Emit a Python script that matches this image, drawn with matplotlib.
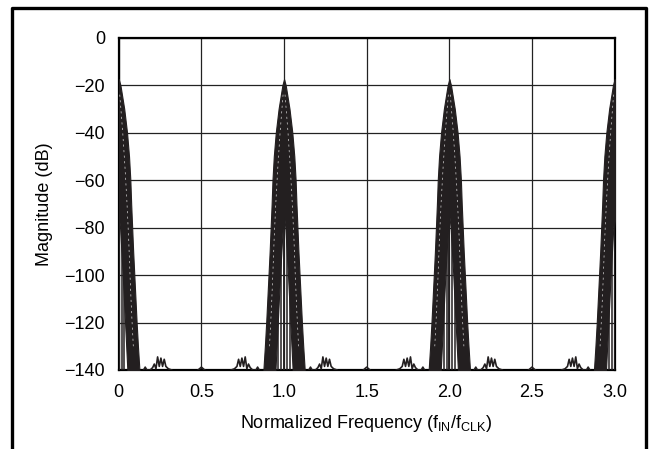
import matplotlib
matplotlib.use("Agg")
import matplotlib.pyplot as plt
from matplotlib.lines import Line2D
import numpy as np

plt.rcParams["font.family"] = ["Liberation Sans", "DejaVu Sans"]
plt.rcParams["mathtext.default"] = "regular"

# lobe centres (multiples of fCLK)
centers = [0.0, 1.0, 2.0, 3.0]

# main lobe envelope (offset from centre, dB)
lobe_db = [-17.5, -20, -30, -40, -50, -60, -70, -75, -80, -90, -100, -110, -120, -130, -140]
outer_off = [0.0, 0.01, 0.033, 0.05, 0.062, 0.07, 0.075, 0.078, 0.081, 0.087, 0.094, 0.101, 0.108, 0.116, 0.125]
inner_off = [0.0, 0.0, 0.0, 0.0, 0.0, 0.0, 0.0, 0.0, 0.008, 0.016, 0.024, 0.031, 0.038, 0.045, 0.052]

# light streaks inside the dark lobes
streak_db = [-24, -40, -55, -70, -85, -100, -115, -130]
streak_off = [0.006, 0.024, 0.038, 0.05, 0.06, 0.068, 0.077, 0.088]

# vertical traces inside the notch
notch_lines = [0.0, 0.017, 0.034]
notch_top = -75

# small side lobes near +-0.25
side_off = [0.15, 0.16, 0.17, 0.19, 0.205, 0.215, 0.225, 0.235, 0.245, 0.255, 0.265, 0.275, 0.285, 0.3, 0.32]
side_db = [-140, -138.8, -140, -140, -139, -137.5, -139.5, -134.5, -138.5, -135, -138.5, -135.5, -138.5, -139.5, -140]

# tiny bump at the half-way points
mid_x = [0.48, 0.5, 0.52]
mid_db = [-140, -138.8, -140]

dark = "#231f20"

fig = plt.figure(figsize=(6.49, 4.49), dpi=100)
ax = fig.add_axes([0.183, 0.176, 0.764, 0.740])

for c in centers:
    ax.fill_betweenx(lobe_db, c + np.array(inner_off), c + np.array(outer_off),
                     color=dark, lw=0.8, zorder=3)
    ax.fill_betweenx(lobe_db, c - np.array(outer_off), c - np.array(inner_off),
                     color=dark, lw=0.8, zorder=3)
    for s in (1, -1):
        ax.plot(c + s * np.array(streak_off), streak_db, color="white",
                lw=0.5, ls=(0, (3, 5)), alpha=0.8, zorder=4)
        ax.vlines([c + s * o for o in notch_lines], -140, notch_top,
                  color=dark, lw=1.1, zorder=3)
        ax.plot(c + s * np.array(side_off), side_db, color=dark, lw=1.2, zorder=3)

for c in [0.0, 1.0, 2.0]:
    ax.plot(c + np.array(mid_x), mid_db, color=dark, lw=1.2, zorder=3)

ax.set_xlim(0, 3)
ax.set_ylim(-140, 0)
ax.set_xticks([0, 0.5, 1.0, 1.5, 2.0, 2.5, 3.0])
ax.set_xticklabels(["0", "0.5", "1.0", "1.5", "2.0", "2.5", "3.0"])
ax.set_yticks(range(-140, 1, 20))
ax.grid(True, color="#222222", lw=0.9)
ax.set_axisbelow(True)
ax.tick_params(length=0, labelsize=13, pad=10)
for sp in ax.spines.values():
    sp.set_linewidth(1.6)

ax.set_xlabel("Normalized Frequency (f$_{IN}$/f$_{CLK}$)", fontsize=13, labelpad=9)
ax.set_ylabel("Magnitude (dB)", fontsize=13, labelpad=8)

# frame around the figure (open at the bottom)
fig.add_artist(Line2D([0.018, 0.018, 0.995, 0.995], [0.0, 0.982, 0.982, 0.0],
                      transform=fig.transFigure, color="black", lw=2.4))

fig.savefig("out.png", dpi=100)
